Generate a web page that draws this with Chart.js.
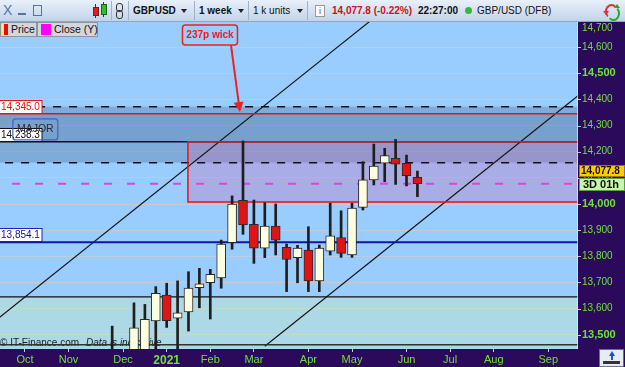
<!DOCTYPE html>
<html>
<head>
<meta charset="utf-8">
<script src="https://cdn.jsdelivr.net/npm/chart.js@4.4.1/dist/chart.umd.min.js"></script>
<style>
  html, body { margin: 0; padding: 0; }
  body { width: 625px; height: 367px; overflow: hidden; position: relative; background: #2b0a5c;
         font-family: "Liberation Sans", Arial, sans-serif; }
  #toolbar { position: absolute; left: 0; top: 0; width: 625px; height: 21px;
             background: linear-gradient(#e8f0fa, #c2d4ea); border-bottom: 1px solid #8fa6c4; }
  #toolbar span, #toolbar div { position: absolute; }
  .t { top: 0; line-height: 21px; font-size: 10px; color: #111; white-space: nowrap; }
  .b { font-weight: bold; }
  .sep { top: 1px; width: 1px; height: 19px; background: #9fb2cc; }
  .dd { top: 9px; width: 0; height: 0; border-left: 3px solid transparent; border-right: 3px solid transparent; border-top: 4px solid #222; }
  #chart { position: absolute; left: 0; top: 22px; }
  .leg { position: absolute; top: 22px; height: 13px; background: #d3d7dc; border: 1px solid #8f949a;
         font-size: 10.5px; line-height: 13px; color: #111; white-space: nowrap; }
  .leg i { position: absolute; display: block; }
  #corner { position: absolute; left: 599px; top: 349px; width: 23px; height: 16px; background: #e6ecf4; border: 1px solid #6a6f88; }
</style>
</head>
<body>
<div id="toolbar">
  <span class="t" style="left:3px;font-size:14px;color:#56759e;">X</span>
  <div style="left:18px;top:13px;width:8px;height:2px;background:#56759e"></div>
  <div style="left:33px;top:5px;width:7px;height:9px;border:1.5px solid #56759e"></div>
  <div style="left:95px;top:4px;width:1px;height:14px;background:#333"></div>
  <div style="left:93px;top:7px;width:4px;height:7px;background:#e02020;border:1px solid #702020"></div>
  <div style="left:103px;top:2px;width:1px;height:15px;background:#333"></div>
  <div style="left:101px;top:4px;width:4px;height:9px;background:#2cc02c;border:1px solid #206020"></div>
  <div class="sep" style="left:111px"></div>
  <div style="left:116px;top:3px;width:5px;height:7px;border:1.5px solid #333;border-radius:3px"></div>
  <div style="left:116px;top:10px;width:5px;height:7px;border:1.5px solid #333;border-radius:3px"></div>
  <div class="sep" style="left:128px"></div>
  <span class="t b" style="left:133px">GBPUSD</span>
  <div class="dd" style="left:181px"></div>
  <div class="sep" style="left:194px"></div>
  <span class="t b" style="left:199px">1 week</span>
  <div class="dd" style="left:238px"></div>
  <div class="sep" style="left:248px"></div>
  <span class="t" style="left:253px">1 k units</span>
  <div class="dd" style="left:297px"></div>
  <div class="sep" style="left:307px"></div>
  <div style="left:315px;top:5px;width:8px;height:10px;background:#fff;border:1px solid #999;font-size:9px;line-height:10px;text-align:center;color:#555">i</div>
  <span class="t b" style="left:332px;color:#cc1111">14,077.8 (-0.22%)</span>
  <span class="t b" style="left:418px">22:27:00</span>
  <div style="left:465px;top:7px;width:7px;height:7px;border-radius:50%;background:#3cb43c"></div>
  <span class="t" style="left:477px">GBP/USD (DFB)</span>
  <!-- refresh icon -->
  <div style="left:605px;top:4px;width:9px;height:11px;border:2px solid #e03030;border-right-color:transparent;border-bottom-color:transparent;border-radius:50%"></div>
  <div style="left:607px;top:6px;width:9px;height:11px;border:2px solid #22aa22;border-left-color:transparent;border-top-color:transparent;border-radius:50%"></div>
  <div style="left:603px;top:11px;width:0;height:0;border-left:3px solid transparent;border-right:3px solid transparent;border-top:4px solid #e03030"></div>
  <div style="left:614px;top:4px;width:0;height:0;border-left:3px solid transparent;border-right:3px solid transparent;border-bottom:4px solid #22aa22"></div>
</div>
<canvas id="chart" width="625" height="345"></canvas>
<div class="leg" style="left:0;width:35px;">
  <i style="left:1px;top:1px;width:2px;height:11px;background:#ffe680"></i>
  <i style="left:3px;top:1px;width:4px;height:11px;background:#e01010"></i>
  <span style="position:absolute;left:10px">Price</span>
</div>
<div class="leg" style="left:37px;width:59px;">
  <i style="left:3px;top:1px;width:10px;height:11px;background:#ff00ff"></i>
  <span style="position:absolute;left:16px">Close (Y)</span>
</div>
<div id="corner">
  <div style="position:absolute;left:9px;top:1px;width:0;height:0;border-left:3px solid transparent;border-right:3px solid transparent;border-bottom:5px solid #2050d0"></div>
  <div style="position:absolute;left:11px;top:6px;width:2px;height:4px;background:#2050d0"></div>
  <div style="position:absolute;left:3px;top:11px;width:17px;height:3px;background:#333"></div>
</div>

<script>
// weekly GBP/USD candles (x = week index, Oct 2020 = 0)
const weeks  = [8, 10, 11, 12, 13, 14, 15, 16, 17, 18, 19, 20, 21, 22, 23, 24, 25, 26, 27, 28, 29, 30, 31, 32, 33, 34, 35, 36];
const opens  = [13380, 13430, 13440, 13553, 13652, 13563, 13587, 13680, 13699, 13717, 13852, 14014, 13922, 13831, 13916, 13834, 13795, 13824, 13706, 13820, 13872, 13805, 13987, 14092, 14156, 14175, 14156, 14102];
const highs  = [13533, 13622, 13616, 13684, 13697, 13706, 13741, 13754, 13750, 13862, 14031, 14241, 14015, 14005, 14000, 13847, 13842, 13913, 13843, 14003, 13974, 14003, 14162, 14229, 14213, 14247, 14187, 14126];
const lows   = [13300, 13380, 13400, 13420, 13528, 13420, 13514, 13603, 13560, 13678, 13827, 13884, 13773, 13795, 13805, 13665, 13699, 13665, 13665, 13805, 13796, 13796, 13977, 14073, 14085, 14075, 14069, 14028];
const closes = [13430, 13526, 13559, 13658, 13554, 13584, 13678, 13695, 13731, 13847, 14000, 13920, 13831, 13916, 13862, 13788, 13831, 13706, 13831, 13878, 13811, 13984, 14092, 14145, 14185, 14152, 14108, 14077.8];

const monthWeeks  = [0, 4, 9, 13, 17, 21, 26, 30, 35, 39, 43, 48];
const monthLabels = ['Oct', 'Nov', 'Dec', '2021', 'Feb', 'Mar', 'Apr', 'May', 'Jun', 'Jul', 'Aug', 'Sep'];
const priceTicks  = [13500, 13600, 13700, 13800, 13900, 14000, 14100, 14200, 14300, 14400, 14500, 14600, 14700];

// horizontal levels drawn across the chart
const levelPrices   = [14372, 14345.0, 14238.3, 14158, 14077.8, 13854.1, 13645, 13462];
const taggedLevels  = [14345.0, 14238.3, 13854.1];

// shaded zones (low, high, start week)
const zoneLows   = [13300, 14158, 14238.3, 14008];
const zoneHighs  = [13645, 14372, 14345.0, 14238.3];
const zoneStarts = [-3, -3, -3, 14.95];

// channel trendlines
const upperChannelX = [-3, 32];
const upperChannelY = [13544, 14711];
const lowerChannelX = [22, 51];
const lowerChannelY = [13456, 14423];

const lastClose = 14077.8;
const wickNote  = { text: '237p wick', x: 16.97, y: 14646 };
const wickArrow = { x0: 18.9, y0: 14608, x1: 19.72, y1: 14352 };
const majorNote = { text: 'MAJOR', x: 0.95, y: 14285 };

const xMin = -2.29, xMax = 50.73;
const yMin = 13445.5, yMax = 14696;

const fam = '"Liberation Sans", Arial, sans-serif';
const green = '#6fe03a';

const levelStyles = [
  { c: '#111', w: 1.5, dash: [8, 8] },
  { c: '#ee1111', w: 1.5 },
  { c: '#111', w: 1.5 },
  { c: '#111', w: 1.5, dash: [8, 8] },
  { c: '#e83ce8', w: 2, dash: [8, 15] },
  { c: '#1414a0', w: 2 },
  { c: '#111', w: 1.2 },
  { c: '#333', w: 1.5 },
];
const tagStyles = [
  { fg: '#ee1111', border: '#ee1111' },
  { fg: '#111', border: '#111' },
  { fg: '#101090', border: '#2020c0' },
];
const zoneFills = ['rgba(215,245,175,0.32)', 'rgba(20,40,70,0.2)', 'rgba(20,40,70,0.07)', 'rgba(200,110,175,0.33)'];

function fmt(v, d) {
  return v.toFixed(d).replace(/\B(?=(\d{3})+(?!\d))/g, ',');
}

function roundBox(ctx, x, y, w, h, r) {
  ctx.beginPath();
  ctx.moveTo(x + r, y);
  ctx.lineTo(x + w - r, y);
  ctx.quadraticCurveTo(x + w, y, x + w, y + r);
  ctx.lineTo(x + w, y + h - r);
  ctx.quadraticCurveTo(x + w, y + h, x + w - r, y + h);
  ctx.lineTo(x + r, y + h);
  ctx.quadraticCurveTo(x, y + h, x, y + h - r);
  ctx.lineTo(x, y + r);
  ctx.quadraticCurveTo(x, y, x + r, y);
  ctx.closePath();
}

const lineDs = (pts, st, order) => ({
  type: 'line',
  data: pts,
  borderColor: st.c,
  borderWidth: st.w,
  borderDash: st.dash || [],
  pointRadius: 0,
  fill: false,
  tension: 0,
  order: order,
});

// background, zones, notes and the price axis
const backdrop = {
  id: 'backdrop',
  beforeDraw(chart) {
    const { ctx, chartArea: a, width, height } = chart;
    ctx.save();
    ctx.fillStyle = '#2b0a5c';
    ctx.fillRect(0, 0, width, height);
    ctx.fillStyle = '#99ccff';
    ctx.fillRect(a.left, a.top, a.right - a.left, a.bottom - a.top);
    ctx.restore();
  },
  beforeDatasetsDraw(chart) {
    const { ctx, chartArea: a, scales: { x, y } } = chart;
    ctx.save();
    ctx.beginPath();
    ctx.rect(a.left, a.top, a.right - a.left, a.bottom - a.top);
    ctx.clip();
    zoneLows.forEach((lo, i) => {
      const x0 = Math.max(x.getPixelForValue(zoneStarts[i]), a.left);
      const y0 = y.getPixelForValue(zoneHighs[i]);
      const y1 = y.getPixelForValue(lo);
      ctx.fillStyle = zoneFills[i];
      ctx.fillRect(x0, y0, a.right - x0, y1 - y0);
    });
    // watermark
    ctx.fillStyle = '#222';
    ctx.textBaseline = 'middle';
    ctx.font = '10px ' + fam;
    ctx.fillText('\u00a9 IT-Finance.com', 0, a.bottom - 6);
    ctx.font = 'italic 10px ' + fam;
    ctx.fillText('Data is indicative', 86, a.bottom - 6);
    ctx.restore();
  },
  afterDraw(chart) {
    const { ctx, chartArea: a, scales: { x, y } } = chart;
    ctx.save();
    ctx.textBaseline = 'middle';
    ctx.textAlign = 'left';

    // level tags on the left
    taggedLevels.forEach((v, i) => {
      const yy = Math.round(y.getPixelForValue(v));
      ctx.font = '10px ' + fam;
      const txt = fmt(v, 1);
      const w = Math.ceil(ctx.measureText(txt).width) + 3;
      ctx.fillStyle = '#fff';
      ctx.fillRect(-1, yy - 13, w + 1, 13);
      ctx.strokeStyle = tagStyles[i].border;
      ctx.lineWidth = 1;
      ctx.strokeRect(-0.5, yy - 13.5, w + 0.5, 13);
      ctx.fillStyle = tagStyles[i].fg;
      ctx.fillText(txt, 1, yy - 6.5);
    });

    // MAJOR note
    {
      const cx = x.getPixelForValue(majorNote.x), cy = y.getPixelForValue(majorNote.y);
      roundBox(ctx, cx - 22.5, cy - 10.5, 45, 21, 3);
      ctx.strokeStyle = '#3a64d0';
      ctx.lineWidth = 1.2;
      ctx.stroke();
      ctx.font = '10.5px ' + fam;
      ctx.fillStyle = '#2a2a3a';
      ctx.textAlign = 'center';
      ctx.fillText(majorNote.text, cx, cy);
      ctx.textAlign = 'left';
    }

    // 237p wick note with arrow
    {
      const cx = x.getPixelForValue(wickNote.x), cy = y.getPixelForValue(wickNote.y);
      roundBox(ctx, cx - 27.5, cy - 10, 55, 20, 3);
      ctx.strokeStyle = '#ee2020';
      ctx.lineWidth = 1.5;
      ctx.stroke();
      ctx.font = 'bold 10px ' + fam;
      ctx.fillStyle = '#ee1c1c';
      ctx.textAlign = 'center';
      ctx.fillText(wickNote.text, cx, cy);
      ctx.textAlign = 'left';

      const ax0 = x.getPixelForValue(wickArrow.x0), ay0 = y.getPixelForValue(wickArrow.y0);
      const ax1 = x.getPixelForValue(wickArrow.x1), ay1 = y.getPixelForValue(wickArrow.y1);
      const ang = Math.atan2(ay1 - ay0, ax1 - ax0);
      ctx.strokeStyle = '#ee2222';
      ctx.lineWidth = 2;
      ctx.beginPath();
      ctx.moveTo(ax0, ay0);
      ctx.lineTo(ax1 - 8 * Math.cos(ang), ay1 - 8 * Math.sin(ang));
      ctx.stroke();
      ctx.fillStyle = '#ee2222';
      ctx.beginPath();
      ctx.moveTo(ax1, ay1);
      ctx.lineTo(ax1 - 10 * Math.cos(ang) + 5 * Math.sin(ang), ay1 - 10 * Math.sin(ang) - 5 * Math.cos(ang));
      ctx.lineTo(ax1 - 10 * Math.cos(ang) - 5 * Math.sin(ang), ay1 - 10 * Math.sin(ang) + 5 * Math.cos(ang));
      ctx.closePath();
      ctx.fill();
    }

    // right price axis labels (top one pushed inside the panel)
    ctx.fillStyle = 'rgba(225,235,255,0.7)';
    ctx.fillRect(a.right - 1, a.top, 1, a.bottom - a.top);
    for (const v of priceTicks) {
      const raw = (v - yMin) / (yMax - yMin);
      const yy = a.bottom - raw * (a.bottom - a.top);
      const py = y.getPixelForValue(v);
      const use = Number.isFinite(py) ? py : yy;
      if (use < a.top - 12 || use > a.bottom + 12) continue;
      if (use >= a.top) {
        ctx.strokeStyle = '#c0c0d0';
        ctx.lineWidth = 1;
        ctx.beginPath();
        ctx.moveTo(a.right, Math.round(use) + 0.5);
        ctx.lineTo(a.right + 3, Math.round(use) + 0.5);
        ctx.stroke();
      }
      const ty = Math.min(Math.max(use, a.top + 6), a.bottom - 6);
      ctx.font = (v % 500 === 0 ? 'bold 11px ' : '10px ') + fam;
      ctx.fillStyle = green;
      ctx.fillText(fmt(v, 0), a.right + 4, ty);
    }

    // last price tags
    const cy = Math.round(y.getPixelForValue(lastClose));
    ctx.fillStyle = '#ffcc00';
    ctx.fillRect(a.right + 1, cy - 19, 46, 12);
    ctx.strokeStyle = '#a07800';
    ctx.lineWidth = 1;
    ctx.strokeRect(a.right + 1.5, cy - 18.5, 45, 11);
    ctx.fillStyle = '#111';
    ctx.font = 'bold 10px ' + fam;
    ctx.fillText(fmt(lastClose, 1), a.right + 3, cy - 12.5);
    ctx.fillStyle = '#c6f5b0';
    ctx.fillRect(a.right + 1, cy - 6, 46, 13);
    ctx.strokeStyle = '#5aa040';
    ctx.strokeRect(a.right + 1.5, cy - 5.5, 45, 12);
    ctx.fillStyle = '#111';
    ctx.font = 'bold 11px ' + fam;
    ctx.fillText('3D 01h', a.right + 5, cy + 0.5);
    ctx.restore();
  },
};

const bodies = weeks.map((w, i) => ({ x: w, y: [opens[i], closes[i]] }));
const wicks  = weeks.map((w, i) => ({ x: w, y: [lows[i], highs[i]] }));

const datasets = [
  {
    type: 'bar',
    data: bodies,
    barThickness: 9,
    grouped: false,
    clip: 0,
    backgroundColor: c => closes[c.dataIndex] >= opens[c.dataIndex] ? '#fdfddf' : '#e01414',
    borderColor: '#2a2a2a',
    borderWidth: 1,
    borderSkipped: false,
    order: 0,
  },
  {
    type: 'bar',
    data: wicks,
    barThickness: 2,
    grouped: false,
    clip: 0,
    backgroundColor: '#1e1e1e',
    borderWidth: 0,
    order: 1,
  },
  lineDs([
    { x: xMax + 1, y: zoneHighs[3] },
    { x: zoneStarts[3], y: zoneHighs[3] },
    { x: zoneStarts[3], y: zoneLows[3] },
    { x: xMax + 1, y: zoneLows[3] },
  ], { c: '#ee1111', w: 1.5 }, 2),
];
levelPrices.forEach((v, i) => {
  datasets.push(lineDs([{ x: xMin - 1, y: v }, { x: xMax + 1, y: v }], levelStyles[i], 3));
});
datasets.push(lineDs(upperChannelX.map((v, i) => ({ x: v, y: upperChannelY[i] })), { c: '#111', w: 1.1 }, 3));
datasets.push(lineDs(lowerChannelX.map((v, i) => ({ x: v, y: lowerChannelY[i] })), { c: '#111', w: 1.1 }, 3));

const ctx = document.getElementById('chart').getContext('2d');
new Chart(ctx, {
  type: 'bar',
  data: { datasets: datasets },
  options: {
    responsive: false,
    animation: false,
    devicePixelRatio: 1,
    events: [],
    layout: { padding: 0 },
    plugins: { legend: { display: false }, tooltip: { enabled: false } },
    scales: {
      x: {
        type: 'linear',
        min: xMin,
        max: xMax,
        offset: false,
        border: { display: false },
        grid: { display: true, offset: false, drawOnChartArea: false, drawTicks: true, tickLength: 3, color: '#c8c8e8' },
        afterBuildTicks: s => { s.ticks = monthWeeks.map(v => ({ value: v })); },
        afterFit: s => { s.height = 18; },
        ticks: {
          autoSkip: false,
          maxRotation: 0,
          minRotation: 0,
          padding: 1,
          color: green,
          font: c => (c.tick && c.tick.value === 13) ? { family: fam, size: 12, weight: 'bold' } : { family: fam, size: 11 },
          callback: v => { const k = monthWeeks.indexOf(v); return k >= 0 ? monthLabels[k] : ''; },
        },
      },
      y: {
        type: 'linear',
        position: 'right',
        min: yMin,
        max: yMax,
        border: { display: false },
        grid: { color: 'rgba(196,202,214,0.95)', lineWidth: 1, drawTicks: false },
        afterBuildTicks: s => { s.ticks = priceTicks.filter(v => v >= yMin && v <= yMax).map(v => ({ value: v })); },
        afterFit: s => { s.width = 47; },
        ticks: { display: false },
      },
    },
  },
  plugins: [backdrop],
});
</script>
</body>
</html>
